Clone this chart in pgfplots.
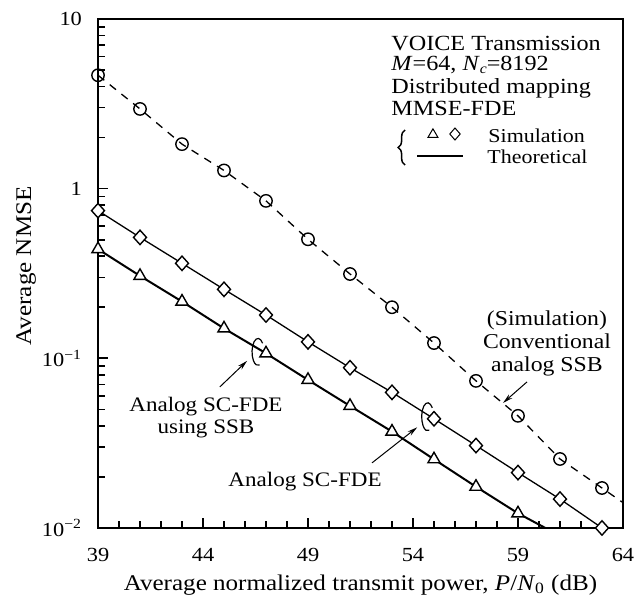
\documentclass[border=0pt]{standalone}
\usepackage{fontspec}
\setmainfont{Liberation Serif}[FakeStretch=1.12]
\usepackage{pgfplots}
\pgfplotsset{compat=1.18}
\usetikzlibrary{decorations.pathreplacing,arrows.meta}
\begin{document}
\begin{tikzpicture}
\begin{axis}[
  scale only axis, width=262.5pt, height=254.5pt,
  xmin=39, xmax=64, ymode=log, ymin=0.01, ymax=10,
  xtick={39,44,49,54,59,64}, minor x tick num=4,
  ytick={0.01,0.1,1,10},
  yticklabels={10\textsuperscript{−2},10\textsuperscript{−1},1,10},
  tick pos=left, tick align=inside,
  major tick length=5pt, minor tick length=3.5pt,
  axis line style={line width=1pt},
  every tick/.style={black, line width=0.8pt},
  /pgf/number format/assume math mode=true,
  tick label style={font=\fontsize{10}{12}\selectfont},
  xticklabel style={yshift=-6.5pt},
  yticklabel style={xshift=-4.5pt},
  xlabel={Average normalized transmit power, \textit{P}/\textit{N}\textsubscript{0} (dB)},
  ylabel={Average NMSE},
  xlabel style={font=\fontsize{11.2}{13}\selectfont, at={(rel axis cs:0.5,-0.112)}, anchor=center},
  ylabel style={font=\fontsize{11.2}{13}\selectfont, at={(rel axis cs:-0.137,0.515)}, anchor=center},
  clip=false,
]
% Theoretical lines
\addplot[black, line width=1pt] coordinates {
(39,0.44)(41,0.306)(43,0.216)(45,0.150)(47,0.107)(49,0.0746)(51,0.0524)(53,0.037)(55,0.0254)(57,0.0175)(59,0.0122)(60.3,0.01)};
\addplot[black, line width=0.65pt] coordinates {
(39,0.742)(41,0.516)(43,0.363)(45,0.255)(47,0.180)(49,0.125)(51,0.088)(53,0.063)(55,0.044)(57,0.0306)(59,0.0212)(61,0.0148)(63,0.0100)};
% Conventional (dashed)
\addplot[black, line width=0.65pt, dash pattern=on 4pt off 3.5pt] coordinates {
(39,4.66)(41,2.95)(43,1.83)(45,1.28)(47,0.847)(49,0.503)(51,0.314)(53,0.200)(55,0.123)(57,0.0736)(59,0.0458)(61,0.0255)(63,0.0172)(64,0.0141)};
% Simulation marks
\addplot[only marks, mark=o, mark size=3.1pt, mark options={line width=0.7pt, fill=white}] coordinates {
(39,4.66)(41,2.95)(43,1.83)(45,1.28)(47,0.847)(49,0.503)(51,0.314)(53,0.200)(55,0.123)(57,0.0736)(59,0.0458)(61,0.0255)(63,0.0172)};
\addplot[only marks, mark=diamond*, mark size=3.6pt, mark options={line width=0.7pt, fill=white, draw=black, xscale=1.2}] coordinates {
(39,0.742)(41,0.516)(43,0.363)(45,0.255)(47,0.180)(49,0.125)(51,0.088)(53,0.063)(55,0.044)(57,0.0306)(59,0.0212)(61,0.0148)(63,0.0100)};
\addplot[only marks, mark=triangle*, mark size=3.5pt, mark options={line width=0.7pt, fill=white, draw=black}] coordinates {
(39,0.44)(41,0.306)(43,0.216)(45,0.150)(47,0.107)(49,0.0746)(51,0.0524)(53,0.037)(55,0.0254)(57,0.0175)(59,0.0122)};

% Top-right text block
\begin{scope}[font=\fontsize{10.8}{13}\selectfont]
\node[anchor=base west, inner sep=0] at (rel axis cs:0.558,0.938) {VOICE Transmission};
\node[anchor=base west, inner sep=0] at (rel axis cs:0.558,0.898) {\textit{M}=64, \textit{N}\raisebox{-0.12em}{\fontsize{7}{8}\selectfont\textit{c}}=8192};
\node[anchor=base west, inner sep=0] at (rel axis cs:0.558,0.853) {Distributed mapping};
\node[anchor=base west, inner sep=0] at (rel axis cs:0.558,0.811) {MMSE-FDE};
\end{scope}
\begin{scope}[font=\fontsize{9.8}{12}\selectfont]
\node[anchor=base west, inner sep=0] at (rel axis cs:0.743,0.758) {Simulation};
\node[anchor=base west, inner sep=0] at (rel axis cs:0.741,0.717) {Theoretical};
\end{scope}
\draw[line width=0.5pt] ([shift={(-2.5pt,-1.7pt)}]rel axis cs:0.638,0.774) -- ([shift={(2.5pt,-1.7pt)}]rel axis cs:0.638,0.774) -- ([shift={(0pt,2.6pt)}]rel axis cs:0.638,0.774) -- cycle;
\draw[line width=0.5pt] ([shift={(0pt,3pt)}]rel axis cs:0.680,0.774) -- ([shift={(2.6pt,0pt)}]rel axis cs:0.680,0.774) -- ([shift={(0pt,-3pt)}]rel axis cs:0.680,0.774) -- ([shift={(-2.6pt,0pt)}]rel axis cs:0.680,0.774) -- cycle;
\draw[line width=1.2pt] (rel axis cs:0.608,0.731) -- (rel axis cs:0.695,0.731);
\draw[line width=0.75pt, decorate, decoration={brace, amplitude=3.5pt}] (rel axis cs:0.585,0.713) -- (rel axis cs:0.585,0.782);

% Annotations
\node[font=\fontsize{10.3}{11}\selectfont, align=center, inner sep=0] at (axis cs:44.14,0.045) {Analog SC-FDE\\using SSB};
\draw[line width=0.5pt, -{Stealth[length=5pt,width=2.5pt]}] (axis cs:44.8,0.0678) -- (axis cs:46.1,0.0966);
\draw[line width=0.6pt] ([shift={(40:3pt and 6.75pt)}]axis cs:46.62,0.109) arc[start angle=40,end angle=285,x radius=3pt,y radius=6.75pt];

\node[font=\fontsize{10.3}{13}\selectfont, inner sep=0] at (axis cs:48.86,0.0187) {Analog SC-FDE};
\draw[line width=0.5pt, -{Stealth[length=5pt,width=2.5pt]}] (axis cs:52.05,0.0242) -- (axis cs:54.2,0.0392);
\draw[line width=0.6pt] ([shift={(40:3pt and 7pt)}]axis cs:54.7,0.0452) arc[start angle=40,end angle=285,x radius=3pt,y radius=7pt];

\node[font=\fontsize{10.6}{11.5}\selectfont, align=center, inner sep=0] at (axis cs:60.38,0.123) {(Simulation)\\Conventional\\analog SSB};
\draw[line width=0.5pt, -{Stealth[length=5pt,width=2.5pt]}] (axis cs:59.43,0.0726) -- (axis cs:58.29,0.0546);

\coordinate (bbsw) at (rel axis cs:-0.1867,-0.1434);
\coordinate (bbne) at (rel axis cs:1.0229,1.0373);
\end{axis}
\pgfresetboundingbox
\path[use as bounding box] (bbsw) rectangle (bbne);
\end{tikzpicture}
\end{document}
